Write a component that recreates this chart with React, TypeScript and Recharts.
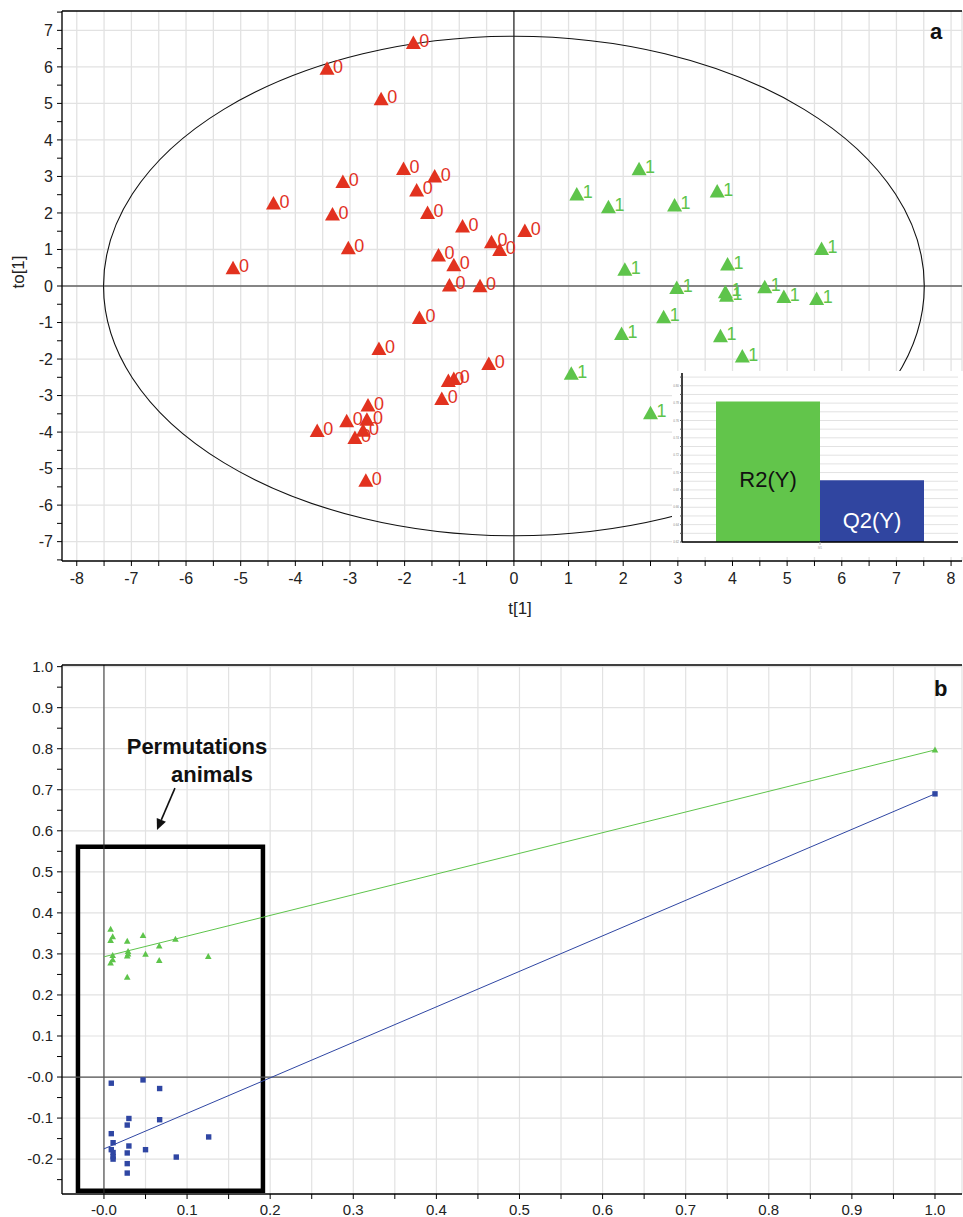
import React from 'react';
import {
  ScatterChart, Scatter, XAxis, YAxis, CartesianGrid, ReferenceLine, ReferenceArea,
  BarChart, Bar, LabelList, Label,
} from 'recharts';

const FONT = '"Liberation Sans", Arial, Helvetica, sans-serif';

// ---------------- Panel a : score plot t[1] vs to[1] ----------------
const classLabels = ['0', '1'];
const class0Scores: [number, number][] = [
  [-1.84, 6.67], [-3.42, 5.96], [-2.43, 5.13], [-2.02, 3.22], [-1.45, 3.01],
  [-3.13, 2.86], [-1.78, 2.63], [-4.40, 2.27], [-3.32, 1.97], [-1.58, 2.01],
  [-0.94, 1.64], [-3.03, 1.05], [-0.41, 1.21], [-0.26, 1.00], [-1.38, 0.85],
  [-1.10, 0.58], [-5.14, 0.50], [-1.18, 0.03], [-0.62, 0.01], [0.20, 1.52],
  [-1.73, -0.86], [-2.47, -1.71], [-0.46, -2.12], [-1.20, -2.59], [-1.10, -2.53],
  [-1.32, -3.08], [-2.67, -3.26], [-3.06, -3.69], [-2.69, -3.65], [-2.76, -3.95],
  [-2.91, -4.15], [-3.60, -3.96], [-2.71, -5.32],
];
const class1Scores: [number, number][] = [
  [2.29, 3.21], [1.15, 2.52], [1.73, 2.17], [2.94, 2.22], [3.72, 2.60],
  [5.63, 1.03], [2.03, 0.46], [3.91, 0.60], [2.98, -0.04], [3.87, -0.16],
  [3.89, -0.25], [4.59, -0.02], [4.94, -0.29], [5.54, -0.34], [2.74, -0.84],
  [1.97, -1.30], [3.78, -1.36], [4.18, -1.92], [1.05, -2.39], [2.50, -3.47],
];
const ellipseRadiusT = 7.51;
const ellipseRadiusTo = 6.84;

const aXDomain = [-8.27, 8.2];
const aYDomain = [-7.53, 7.53];
const aXTicks = [-8, -7.5, -7, -6.5, -6, -5.5, -5, -4.5, -4, -3.5, -3, -2.5, -2, -1.5, -1, -0.5, 0,
  0.5, 1, 1.5, 2, 2.5, 3, 3.5, 4, 4.5, 5, 5.5, 6, 6.5, 7, 7.5, 8];
const aYTicks = [-7.5, -7, -6.5, -6, -5.5, -5, -4.5, -4, -3.5, -3, -2.5, -2, -1.5, -1, -0.5, 0,
  0.5, 1, 1.5, 2, 2.5, 3, 3.5, 4, 4.5, 5, 5.5, 6, 6.5, 7, 7.5];
const aYGrid = [-7, -6, -5, -4, -3, -2, -1, 0, 1, 2, 3, 4, 5, 6, 7];

// inset bar chart (model summary)
const insetNames = ['R2(Y)', 'Q2(Y)'];
const insetValues = [0.782, 0.691];
const insetDomain = [0.62, 0.8147];
const insetTicks = [0.62, 0.63, 0.64, 0.65, 0.66, 0.67, 0.68, 0.69, 0.70, 0.71, 0.72, 0.73,
  0.74, 0.75, 0.76, 0.77, 0.78, 0.79, 0.80, 0.81];

// ---------------- Panel b : permutation test ----------------
const permR2: [number, number][] = [
  [0.008, 0.360], [0.0105, 0.342], [0.008, 0.333], [0.028, 0.331], [0.047, 0.345],
  [0.0665, 0.319], [0.086, 0.336], [0.0105, 0.296], [0.029, 0.306], [0.029, 0.300],
  [0.028, 0.295], [0.050, 0.299], [0.0105, 0.286], [0.008, 0.278], [0.0665, 0.284],
  [0.1255, 0.294], [0.028, 0.243], [1.0, 0.797],
];
const permQ2: [number, number][] = [
  [0.0088, -0.015], [0.047, -0.007], [0.067, -0.028], [0.030, -0.101], [0.028, -0.117],
  [0.067, -0.104], [0.0088, -0.138], [0.011, -0.160], [0.0088, -0.177], [0.030, -0.168],
  [0.011, -0.184], [0.011, -0.194], [0.011, -0.200], [0.050, -0.177], [0.028, -0.185],
  [0.126, -0.146], [0.087, -0.195], [0.028, -0.211], [0.028, -0.234], [1.0, 0.69],
];
const r2Fit: [number, number][] = [[0, 0.293], [1, 0.797]];
const q2Fit: [number, number][] = [[0, -0.175], [1, 0.69]];
const boxCorners: [number, number][] = [[-0.0313, -0.277], [0.1913, 0.561]];
const arrowEnds: [number, number][] = [[0.0854, 0.704], [0.0638, 0.602]];

const bXDomain = [-0.0505, 1.0325];
const bYDomain = [-0.285, 1.004];
const bXTicks = [0, 0.05, 0.1, 0.15, 0.2, 0.25, 0.3, 0.35, 0.4, 0.45, 0.5, 0.55, 0.6, 0.65, 0.7,
  0.75, 0.8, 0.85, 0.9, 0.95, 1.0];
const bYTicks = [-0.25, -0.2, -0.15, -0.1, -0.05, 0, 0.05, 0.1, 0.15, 0.2, 0.25, 0.3, 0.35, 0.4,
  0.45, 0.5, 0.55, 0.6, 0.65, 0.7, 0.75, 0.8, 0.85, 0.9, 0.95, 1.0];
const bYGrid = [-0.2, -0.1, 0, 0.1, 0.2, 0.3, 0.4, 0.5, 0.6, 0.7, 0.8, 0.9, 1.0];

const RED = '#e2321f';
const GREEN = '#5ec44b';
const BLUE = '#2f46a3';

const toXY = (arr: [number, number][]) => arr.map(([x, y]) => ({ x, y }));

const ScoreMarker = (p: any, color: string, text: string) => {
  const { cx, cy } = p;
  if (cx == null || cy == null) return <g />;
  return (
    <g>
      <polygon points={`${cx},${cy - 7} ${cx - 7.5},${cy + 6.5} ${cx + 7.5},${cy + 6.5}`} fill={color} />
      <text x={cx + 6} y={cy + 4.5} fontSize={18} fill={color} fontFamily={FONT}>{text}</text>
    </g>
  );
};

const SmallTri = (p: any) => {
  const { cx, cy } = p;
  if (cx == null) return <g />;
  return <polygon points={`${cx},${cy - 3.5} ${cx - 3.3},${cy + 2.5} ${cx + 3.3},${cy + 2.5}`} fill={GREEN} />;
};
const SmallSq = (p: any) => {
  const { cx, cy } = p;
  if (cx == null) return <g />;
  return <rect x={cx - 2.7} y={cy - 2.7} width={5.4} height={5.4} fill={BLUE} />;
};
const NoShape = () => <g />;

const intLabel = (v: number) => (Number.isInteger(v) ? String(v) : '');
const tenthLabel = (v: number) => {
  const r = Math.round(v * 10);
  if (Math.abs(v * 10 - r) > 1e-6) return '';
  if (r === 0) return '-0.0';
  return (r / 10).toFixed(1);
};
const insetLabel = (v: number) => {
  const r = Math.round(v * 100);
  return r % 2 === 0 ? v.toFixed(2) : '';
};

const Arrow = (p: any) => {
  const { x1, y1, x2, y2 } = p;
  if (x1 == null) return <g />;
  const dx = x2 - x1, dy = y2 - y1;
  const len = Math.sqrt(dx * dx + dy * dy);
  const ux = dx / len, uy = dy / len;
  const hl = 11, hw = 5;
  const bx = x2 - ux * hl, by = y2 - uy * hl;
  return (
    <g>
      <line x1={x1} y1={y1} x2={bx} y2={by} stroke="#111" strokeWidth={1.6} />
      <polygon points={`${x2},${y2} ${bx - uy * hw},${by + ux * hw} ${bx + uy * hw},${by - ux * hw}`} fill="#111" />
    </g>
  );
};

const tickStyle = { fontSize: 16, fill: '#222', fontFamily: FONT };

export default function App() {
  const c0 = class0Scores.map(([t, to]) => ({ t, to }));
  const c1 = class1Scores.map(([t, to]) => ({ t, to }));
  const insetData = [{ name: 'M1', r2: insetValues[0], q2: insetValues[1] }];

  return (
    <div style={{ position: 'absolute', left: 0, top: 0, width: 963, height: 1217, background: '#fff', fontFamily: FONT }}>
      {/* Panel a */}
      <div style={{ position: 'absolute', left: 0, top: 0 }}>
        <ScatterChart width={963} height={625} margin={{ top: 11, right: 1, bottom: 0, left: 0 }}>
          <CartesianGrid stroke="#e2e2e2" strokeWidth={1.3} horizontalValues={aYGrid} />
          <XAxis type="number" dataKey="t" domain={aXDomain} ticks={aXTicks} allowDataOverflow
            interval={0} tickFormatter={intLabel} height={64} tickSize={5} tickMargin={7}
            axisLine={{ stroke: '#000', strokeWidth: 1.3 }} tickLine={{ stroke: '#000' }} tick={tickStyle}>
            <Label content={(props: any) => {
              const vb = props.viewBox;
              return <text x={vb.x + vb.width / 2 + 8} y={608} textAnchor="middle" dominantBaseline="central"
                fontSize={17} fill="#222" fontFamily={FONT}>t[1]</text>;
            }} />
          </XAxis>
          <YAxis type="number" dataKey="to" domain={aYDomain} ticks={aYTicks} allowDataOverflow
            interval={0} tickFormatter={intLabel} width={62} tickSize={5} tickMargin={4}
            axisLine={{ stroke: '#000', strokeWidth: 1.3 }} tickLine={{ stroke: '#000' }} tick={tickStyle}>
            <Label content={(props: any) => {
              const vb = props.viewBox;
              const cy = vb.y + vb.height / 2 - 14;
              return <text x={18} y={cy} transform={`rotate(-90, 18, ${cy})`} textAnchor="middle"
                dominantBaseline="central" fontSize={17} fill="#222" fontFamily={FONT}>to[1]</text>;
            }} />
          </YAxis>
          <ReferenceLine x={0} stroke="#222" strokeWidth={1.2} />
          <ReferenceLine y={0} stroke="#222" strokeWidth={1.2} />
          <ReferenceLine y={aYDomain[1]} stroke="#000" strokeWidth={1.3} />
          <ReferenceArea x1={-ellipseRadiusT} x2={ellipseRadiusT} y1={-ellipseRadiusTo} y2={ellipseRadiusTo}
            shape={(p: any) => (
              <ellipse cx={p.x + p.width / 2} cy={p.y + p.height / 2} rx={p.width / 2} ry={p.height / 2}
                fill="none" stroke="#111" strokeWidth={1.1} />
            )} />
          <Scatter data={c0} isAnimationActive={false} shape={(p: any) => ScoreMarker(p, RED, classLabels[0])} />
          <Scatter data={c1} isAnimationActive={false} shape={(p: any) => ScoreMarker(p, GREEN, classLabels[1])} />
        </ScatterChart>
      </div>

      {/* Inset */}
      <div style={{ position: 'absolute', left: 672, top: 371, width: 291, height: 186, background: '#fff' }}>
        <BarChart width={291} height={186} data={insetData} margin={{ top: 2, right: 5, bottom: 0, left: 0 }}
          barCategoryGap={34} barGap={0}>
          <CartesianGrid vertical={false} stroke="#e2e2e2" horizontalValues={insetTicks} />
          <XAxis dataKey="name" height={15} tickSize={3} axisLine={{ stroke: '#000', strokeWidth: 1.5 }}
            tickLine={{ stroke: '#aaa' }} tick={{ fontSize: 3, fill: '#aaa' }} />
          <YAxis domain={insetDomain} ticks={insetTicks} allowDataOverflow interval={0} width={10}
            tickSize={2} tickMargin={1} tickFormatter={insetLabel}
            axisLine={{ stroke: '#000', strokeWidth: 1.5 }} tickLine={{ stroke: '#555' }}
            tick={{ fontSize: 3, fill: '#888' }} />
          <YAxis yAxisId="right" orientation="right" width={0} tick={false} tickLine={false}
            axisLine={{ stroke: '#000', strokeWidth: 1.2 }} />
          <Bar dataKey="r2" fill="#62c54b" isAnimationActive={false}>
            <LabelList content={(p: any) => (
              <text x={p.x + p.width / 2} y={p.y + p.height / 2 + 15} textAnchor="middle" fontSize={22}
                fill="#111" fontFamily={FONT}>{insetNames[0]}</text>
            )} />
          </Bar>
          <Bar dataKey="q2" fill="#3045a0" isAnimationActive={false}>
            <LabelList content={(p: any) => (
              <text x={p.x + p.width / 2} y={p.y + p.height / 2 + 17} textAnchor="middle" fontSize={22}
                fill="#fff" fontFamily={FONT}>{insetNames[1]}</text>
            )} />
          </Bar>
        </BarChart>
      </div>

      <div style={{ position: 'absolute', left: 930, top: 20, fontSize: 22, fontWeight: 'bold', lineHeight: '24px', color: '#111' }}>a</div>

      {/* Panel b */}
      <div style={{ position: 'absolute', left: 0, top: 640 }}>
        <ScatterChart width={963} height={577} margin={{ top: 25, right: 1, bottom: 0, left: 0 }}>
          <CartesianGrid stroke="#e2e2e2" strokeWidth={1.2} horizontalValues={bYGrid} />
          <XAxis type="number" dataKey="x" domain={bXDomain} ticks={bXTicks} allowDataOverflow interval={0}
            tickFormatter={tenthLabel} height={23} tickSize={5} tickMargin={5}
            axisLine={{ stroke: '#000', strokeWidth: 1.3 }} tickLine={{ stroke: '#000' }}
            tick={{ fontSize: 15, fill: '#222', fontFamily: FONT }} />
          <YAxis type="number" dataKey="y" domain={bYDomain} ticks={bYTicks} allowDataOverflow interval={0}
            tickFormatter={tenthLabel} width={62} tickSize={5} tickMargin={4}
            axisLine={{ stroke: '#000', strokeWidth: 1.3 }} tickLine={{ stroke: '#000' }}
            tick={{ fontSize: 15, fill: '#222', fontFamily: FONT }} />
          <ReferenceLine x={0} stroke="#333" strokeWidth={1} />
          <ReferenceLine y={0} stroke="#555" strokeWidth={1.2} />
          <ReferenceLine y={bYDomain[1]} stroke="#000" strokeWidth={1.3} />
          <Scatter data={toXY(r2Fit)} isAnimationActive={false} line={{ stroke: GREEN, strokeWidth: 1 }} shape={NoShape} />
          <Scatter data={toXY(q2Fit)} isAnimationActive={false} line={{ stroke: BLUE, strokeWidth: 1 }} shape={NoShape} />
          <Scatter data={toXY(permR2)} isAnimationActive={false} shape={SmallTri} />
          <Scatter data={toXY(permQ2)} isAnimationActive={false} shape={SmallSq} />
          <ReferenceArea x1={boxCorners[0][0]} x2={boxCorners[1][0]} y1={boxCorners[0][1]} y2={boxCorners[1][1]}
            fill="none" fillOpacity={0} stroke="#000" strokeWidth={4.5} ifOverflow="visible" />
          <ReferenceLine segment={[{ x: arrowEnds[0][0], y: arrowEnds[0][1] }, { x: arrowEnds[1][0], y: arrowEnds[1][1] }]}
            shape={Arrow} ifOverflow="visible" />
        </ScatterChart>
      </div>

      <div style={{ position: 'absolute', left: 97, top: 734, width: 200, textAlign: 'center', fontSize: 22, fontWeight: 'bold', lineHeight: '26px', color: '#111' }}>Permutations</div>
      <div style={{ position: 'absolute', left: 112, top: 762, width: 200, textAlign: 'center', fontSize: 22, fontWeight: 'bold', lineHeight: '26px', color: '#111' }}>animals</div>
      <div style={{ position: 'absolute', left: 934, top: 677, fontSize: 22, fontWeight: 'bold', lineHeight: '24px', color: '#111' }}>b</div>
    </div>
  );
}
